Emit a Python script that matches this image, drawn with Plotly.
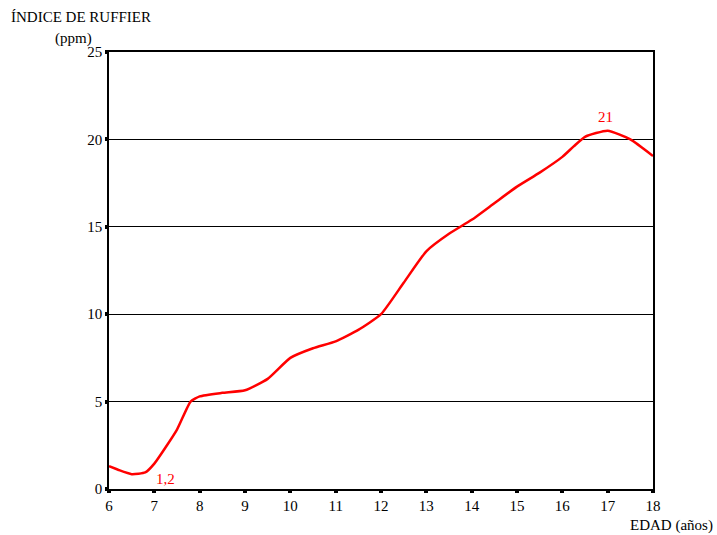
import plotly.graph_objects as go

edad = [6, 6.2, 6.5, 6.8, 7, 7.5, 7.8, 8, 8.5, 9, 9.5, 10, 10.5, 11, 11.5, 12, 12.5, 13, 13.5, 14, 14.5, 15, 15.5, 16, 16.25, 16.5, 17, 17.5, 18]
indice = [1.3, 1.1, 0.85, 0.95, 1.45, 3.4, 5.0, 5.3, 5.5, 5.65, 6.3, 7.5, 8.05, 8.45, 9.1, 10.0, 11.8, 13.6, 14.6, 15.4, 16.35, 17.3, 18.1, 19.0, 19.6, 20.15, 20.5, 20.0, 19.05]
x_ticks = list(range(6, 19))
y_ticks = [0, 5, 10, 15, 20, 25]

font = "Liberation Serif, Times New Roman, serif"
W, H = 717, 535
L, R, T, B = 109, 64, 52, 46

fig = go.Figure()
fig.add_trace(go.Scatter(x=edad, y=indice, mode="lines",
                         line=dict(color="#ff0000", width=2.5, shape="spline", smoothing=0.5),
                         hoverinfo="skip", showlegend=False))

fig.update_layout(
    width=W, height=H,
    margin=dict(l=L, r=R, t=T, b=B),
    paper_bgcolor="white", plot_bgcolor="white",
    font=dict(family=font, size=15, color="black"),
    xaxis=dict(range=[6, 18], tickvals=x_ticks, ticktext=[str(v) for v in x_ticks],
               showgrid=False, zeroline=False, showline=True, linecolor="black", linewidth=1.5,
               mirror=True, ticks="outside", ticklen=2, tickwidth=4, tickcolor="black",
               tickfont=dict(family=font, size=15)),
    yaxis=dict(range=[0, 25], tickvals=y_ticks, ticktext=[str(v) for v in y_ticks],
               showgrid=True, gridcolor="black", gridwidth=1.2, zeroline=False,
               showline=True, linecolor="black", linewidth=1.5, mirror=True,
               ticks="outside", ticklen=2, tickwidth=4, tickcolor="black",
               tickfont=dict(family=font, size=15)),
)

pw = W - L - R
ph = H - T - B
def px(x, y):
    return (x - L) / pw, (H - y - B) / ph

anns = [
    dict(x=7.25, y=0.55, xref="x", yref="y", text="1,2", showarrow=False,
         font=dict(family=font, size=15, color="#ff0000")),
    dict(x=16.95, y=21.3, xref="x", yref="y", text="21", showarrow=False,
         font=dict(family=font, size=15, color="#ff0000")),
]
for text, (x, y), anchor in [("ÍNDICE DE RUFFIER", (9, 17), "left"),
                              ("(ppm)", (94, 38), "right"),
                              ("EDAD (años)", (715, 525), "right")]:
    ax, ay = px(x, y)
    anns.append(dict(x=ax, y=ay, xref="paper", yref="paper", text=text, showarrow=False,
                     xanchor=anchor, yanchor="middle", font=dict(family=font, size=15)))
fig.update_layout(annotations=anns)

fig.write_html("out.html", config={"displayModeBar": False},
               post_script="document.body.style.margin='0';document.body.style.overflow='hidden';")
